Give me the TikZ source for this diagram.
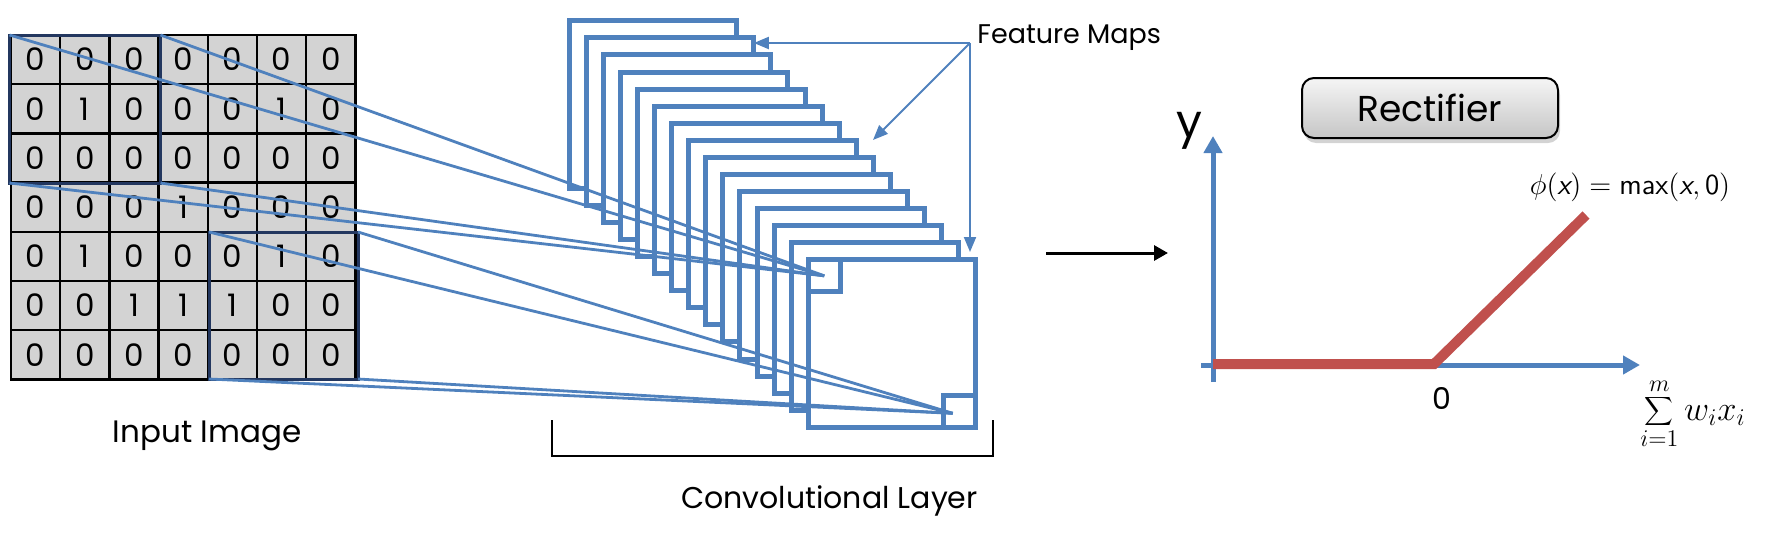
\documentclass[tikz,border=0pt]{standalone}
\usepackage{fontspec}
\setmainfont{Poppins}
\usetikzlibrary{arrows.meta,shadows,calc}
\definecolor{fblue}{RGB}{79,129,189}
\definecolor{kblue}{RGB}{35,55,95}
\definecolor{rred}{RGB}{192,80,77}
\definecolor{cellgray}{RGB}{211,211,211}
\tikzset{
  cell/.style={draw=black, fill=cellgray, line width=1.25pt, minimum size=24.6pt, inner sep=0pt, font=\fontsize{15.5}{15.5}\selectfont},
  kbox/.style={draw=kblue, line width=1.5pt, inner sep=0pt, outer sep=0pt},
  fmap/.style={draw=fblue, fill=white, line width=2.5pt, minimum size=83.75pt, inner sep=0pt, outer sep=0pt},
  sbox/.style={draw=fblue, fill=white, line width=2.5pt, minimum size=16pt, inner sep=0pt, outer sep=0pt},
  conn/.style={draw=fblue, line width=1.4pt},
  farrow/.style={draw=fblue, line width=1pt, -{Triangle[length=7.5pt,width=6pt]}},
  rectbox/.style={draw=black, line width=1pt, rounded corners=6pt, top color=gray!8, bottom color=gray!45,
     drop shadow={opacity=0.35, shadow xshift=1pt, shadow yshift=-2.5pt},
     minimum width=128pt, minimum height=30pt, inner sep=0pt, font=\fontsize{18}{18}\selectfont},
  axisline/.style={draw=fblue, line width=2.5pt, -{Triangle[length=8.5pt,width=9pt]}},
  relu/.style={draw=rred, line width=5pt},
  barrow/.style={draw=black, line width=1.5pt, -{Triangle[length=7pt,width=7.5pt]}},
  lab/.style={inner sep=0pt, text=black},
}
\begin{document}
\begin{tikzpicture}[x=0.5pt,y=-0.5pt]
\useasboundingbox (0,0) rectangle (1767,536);
% input grid
\foreach \row [count=\r from 0] in {{0,0,0,0,0,0,0},{0,1,0,0,0,1,0},{0,0,0,0,0,0,0},{0,0,0,1,0,0,0},{0,1,0,0,0,1,0},{0,0,1,1,1,0,0},{0,0,0,0,0,0,0}} {
  \foreach \v [count=\c from 0] in \row {
    \node[cell] (g-\r-\c) at ({35.6+49.2*\c},{59.6+49.2*\r}) {\v};
  }
}
\node[kbox, minimum width=75.5pt, minimum height=74pt] (k1) at (85,109) {};
\node[kbox, minimum width=74.5pt, minimum height=73.5pt] (k2) at (283.5,305.5) {};
% feature maps
\foreach \k in {0,...,14} {
  \node[fmap] (fm\k) at ({653+17.07*\k},{104.6+17.07*\k}) {};
}
\node[sbox, anchor=north west] (s1) at (fm14.north west) {};
\node[sbox, anchor=south east] (s2) at (fm14.south east) {};
% connectors
\foreach \a in {north west, north east, south west, south east} {
  \draw[conn] (k1.\a) -- (s1.center);
  \draw[conn] (k2.\a) -- ($(s2.center)+(-7,2)$);
}
% feature maps label
\node[lab, font=\fontsize{13.5}{13.5}\selectfont, anchor=base west] (fmlab) at (977,43) {Feature Maps};
\coordinate (fmsrc) at (970,43);
\coordinate (fmd) at (873,140);
\coordinate (fmv) at (970,252);
\draw[farrow] (fmsrc) -- (fmsrc -| fm1.east);
\draw[farrow] (fmsrc) -- (fmd);
\draw[farrow] (fmsrc) -- (fmv);
% bracket
\coordinate (b1) at (552,420);
\coordinate (b2) at (552,456);
\coordinate (b3) at (993,456);
\coordinate (b4) at (993,420);
\draw[line width=1.25pt] (b1) -- (b2) -- (b3) -- (b4);
\node[lab, font=\fontsize{15.5}{15.5}\selectfont, anchor=base] (inlab) at (207,442) {Input Image};
\node[lab, font=\fontsize{15}{15}\selectfont, anchor=base] (cllab) at (829.5,508) {Convolutional Layer};
% arrow to rectifier
\coordinate (ba) at (1046,253);
\coordinate (bb) at (1168,253);
\draw[barrow] (ba) -- (bb);
% rectifier
\node[rectbox] (rect) at (1430,108) {Rectifier};
\coordinate (yb) at (1213,382);
\coordinate (yt) at (1213,136);
\coordinate (xl) at (1201,365);
\coordinate (xr) at (1640,365);
\draw[axisline] (yb) -- (yt);
\draw[axisline] (xl) -- (xr);
\coordinate (r0) at (1213,364);
\coordinate (r1) at (1434,364);
\coordinate (r2) at (1586,215);
\draw[relu] (r0) -- (r1) -- (r2);
\node[lab, font=\fontsize{23}{23}\selectfont] (ylab) at (1189,131) {y};
\node[lab, font=\fontsize{15}{15}\selectfont] (zero) at (1442,398) {0};
\node[lab, font=\fontsize{14.5}{14.5}\selectfont] (phi) at (1630,187) {$\phi(\textsf{\itshape x}) = \textsf{max}(\textsf{\itshape x}, \textsf{0})$};
\node[lab, font=\fontsize{16.5}{16.5}\selectfont] (sum) at (1693,414) {$\displaystyle\sum_{i=1}^{m} w_i x_i$};
\end{tikzpicture}
\end{document}
